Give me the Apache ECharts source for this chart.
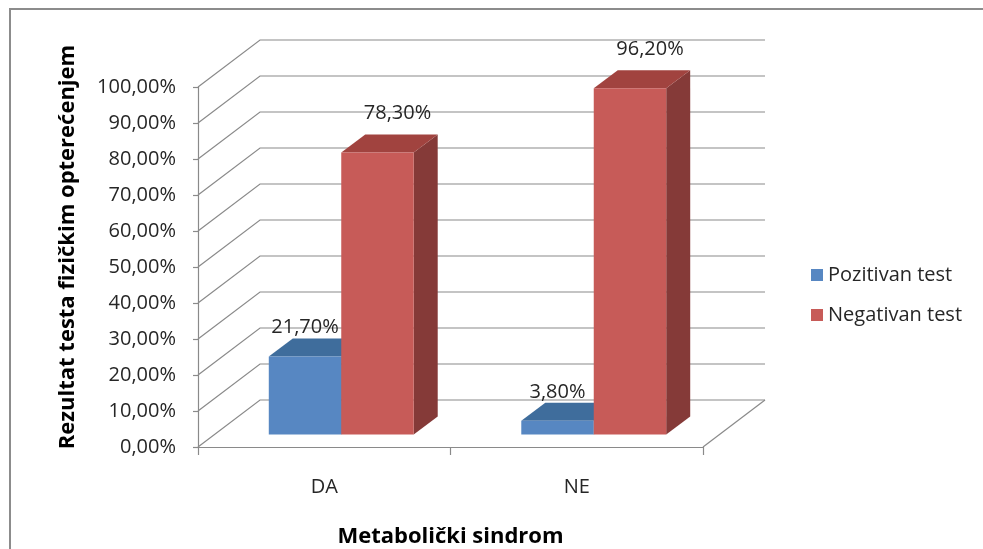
<!DOCTYPE html>
<html>
<head>
<meta charset="utf-8">
<script src="https://cdn.jsdelivr.net/npm/echarts@6/dist/echarts.min.js"></script>
<style>
  html, body { margin: 0; padding: 0; background: #ffffff; }
  #chart { width: 983px; height: 549px; }
</style>
</head>
<body>
<div id="chart"></div>
<script>
// Data
const categories = ['DA', 'NE'];
const seriesNames = ['Pozitivan test', 'Negativan test'];
const pozitivan = [21.7, 3.8];
const negativan = [78.3, 96.2];
const yTicks = [0, 10, 20, 30, 40, 50, 60, 70, 80, 90, 100];
const xTitle = 'Metabolički sindrom';
const yTitle = 'Rezultat testa fizičkim opterećenjem';

// 3D projection settings (pixels)
const WALL_DX = 62, WALL_DY = -47;   // depth of the floor / back wall
const BAR_OFF_DX = 17, BAR_OFF_DY = -12.5; // bar front plane behind axis plane
const BAR_DX = 24, BAR_DY = -18;      // bar depth
const BAR_FRAC = 0.287;               // bar width relative to category band

const FONT = "'Open Sans', 'DejaVu Sans', sans-serif";
const TEXT_COLOR = '#262626';
const LINE_COLOR = '#8a8a8a';

const palette = [
  { front: '#5787c2', top: '#3f6d9c', side: '#365c86' },
  { front: '#c75b58', top: '#a1433f', side: '#853a38' }
];

function fmtPct(v) {
  return v.toFixed(2).replace('.', ',') + '%';
}

// Back wall and floor lines
function renderWalls(params, api) {
  const cs = params.coordSys;
  const left = cs.x, right = cs.x + cs.width;
  const children = [];
  const style = { stroke: LINE_COLOR, lineWidth: 1.2, fill: null };
  yTicks.forEach(function (v) {
    const y = api.coord([0, v])[1];
    children.push({
      type: 'polyline',
      shape: { points: [[left, y], [left + WALL_DX, y + WALL_DY], [right + WALL_DX, y + WALL_DY]] },
      style: style,
      silent: true
    });
  });
  const y0 = api.coord([0, yTicks[0]])[1];
  children.push({
    type: 'line',
    shape: { x1: right, y1: y0, x2: right + WALL_DX, y2: y0 + WALL_DY },
    style: style,
    silent: true
  });
  return { type: 'group', children: children };
}

function makeBarRenderer(idx) {
  const col = palette[idx];
  return function (params, api) {
    const cat = api.value(0);
    const val = api.value(1);
    const band = api.size([1, 0])[0];
    const center = api.coord([cat, 0])[0];
    const barW = band * BAR_FRAC;
    const x0 = center + BAR_OFF_DX + (idx === 0 ? -barW : 0);
    const x1 = x0 + barW;
    const yb = api.coord([cat, 0])[1] + BAR_OFF_DY;
    const yt = api.coord([cat, val])[1] + BAR_OFF_DY;
    const children = [
      {
        type: 'polygon',
        shape: { points: [[x1, yt], [x1 + BAR_DX, yt + BAR_DY], [x1 + BAR_DX, yb + BAR_DY], [x1, yb]] },
        style: { fill: col.side }
      },
      {
        type: 'polygon',
        shape: { points: [[x0, yt], [x1, yt], [x1 + BAR_DX, yt + BAR_DY], [x0 + BAR_DX, yt + BAR_DY]] },
        style: { fill: col.top }
      },
      {
        type: 'rect',
        shape: { x: x0, y: yt, width: barW, height: yb - yt },
        style: { fill: col.front }
      },
      {
        type: 'text',
        x: (x0 + x1) / 2 + (idx === 0 ? 0 : 20),
        y: yt + BAR_DY - (idx === 0 ? 11 : 21),
        style: {
          text: fmtPct(val),
          fill: TEXT_COLOR,
          font: '20px ' + FONT,
          align: 'center',
          verticalAlign: 'middle'
        }
      }
    ];
    return { type: 'group', children: children };
  };
}

const chart = echarts.init(document.getElementById('chart'), null, { renderer: 'canvas' });

chart.setOption({
  backgroundColor: '#ffffff',
  animation: false,
  color: [palette[0].front, palette[1].front],
  grid: { left: 198, right: 280, top: 87, bottom: 102, containLabel: false, outerBoundsMode: 'none' },
  legend: {
    orient: 'vertical',
    left: 811,
    top: 265,
    padding: 0,
    icon: 'rect',
    itemWidth: 12,
    itemHeight: 12,
    itemGap: 20,
    data: seriesNames,
    textStyle: { fontFamily: FONT, fontSize: 20, color: TEXT_COLOR }
  },
  graphic: [
    {
      type: 'rect',
      shape: { x: 10, y: 9, width: 1400, height: 900 },
      style: { fill: null, stroke: '#8c8c8c', lineWidth: 2 },
      silent: true,
      z: -10
    },
    {
      type: 'text',
      x: 68,
      y: 247,
      rotation: Math.PI / 2,
      style: {
        text: yTitle,
        fill: '#000000',
        font: 'bold 22px ' + FONT,
        align: 'center',
        verticalAlign: 'middle'
      },
      silent: true
    }
  ],
  xAxis: {
    type: 'category',
    data: categories,
    boundaryGap: true,
    name: xTitle,
    nameLocation: 'middle',
    nameGap: 79,
    nameTextStyle: { fontFamily: FONT, fontSize: 22, fontWeight: 'bold', color: '#000000' },
    axisLine: { show: true, lineStyle: { color: LINE_COLOR, width: 1.2 } },
    axisTick: { show: true, alignWithLabel: false, length: 8, lineStyle: { color: LINE_COLOR, width: 1.2 } },
    axisLabel: { margin: 30, fontFamily: FONT, fontSize: 20, color: TEXT_COLOR },
    splitLine: { show: false }
  },
  yAxis: {
    type: 'value',
    min: 0,
    max: 100,
    interval: 10,
    axisLine: { show: true, lineStyle: { color: LINE_COLOR, width: 1.2 } },
    axisTick: { show: true, length: 5, lineStyle: { color: LINE_COLOR, width: 1.2 } },
    axisLabel: { margin: 22, fontFamily: FONT, fontSize: 20, color: TEXT_COLOR, formatter: fmtPct },
    splitLine: { show: false }
  },
  series: [
    {
      name: 'walls',
      type: 'custom',
      renderItem: renderWalls,
      data: [[0, 0]],
      encode: { x: 0, y: 1 },
      silent: true,
      z: 1
    },
    {
      name: seriesNames[0],
      type: 'custom',
      renderItem: makeBarRenderer(0),
      itemStyle: { color: palette[0].front },
      data: categories.map(function (c, i) { return [i, pozitivan[i]]; }),
      encode: { x: 0, y: 1 },
      z: 3
    },
    {
      name: seriesNames[1],
      type: 'custom',
      renderItem: makeBarRenderer(1),
      itemStyle: { color: palette[1].front },
      data: categories.map(function (c, i) { return [i, negativan[i]]; }),
      encode: { x: 0, y: 1 },
      z: 4
    }
  ]
});
</script>
</body>
</html>
